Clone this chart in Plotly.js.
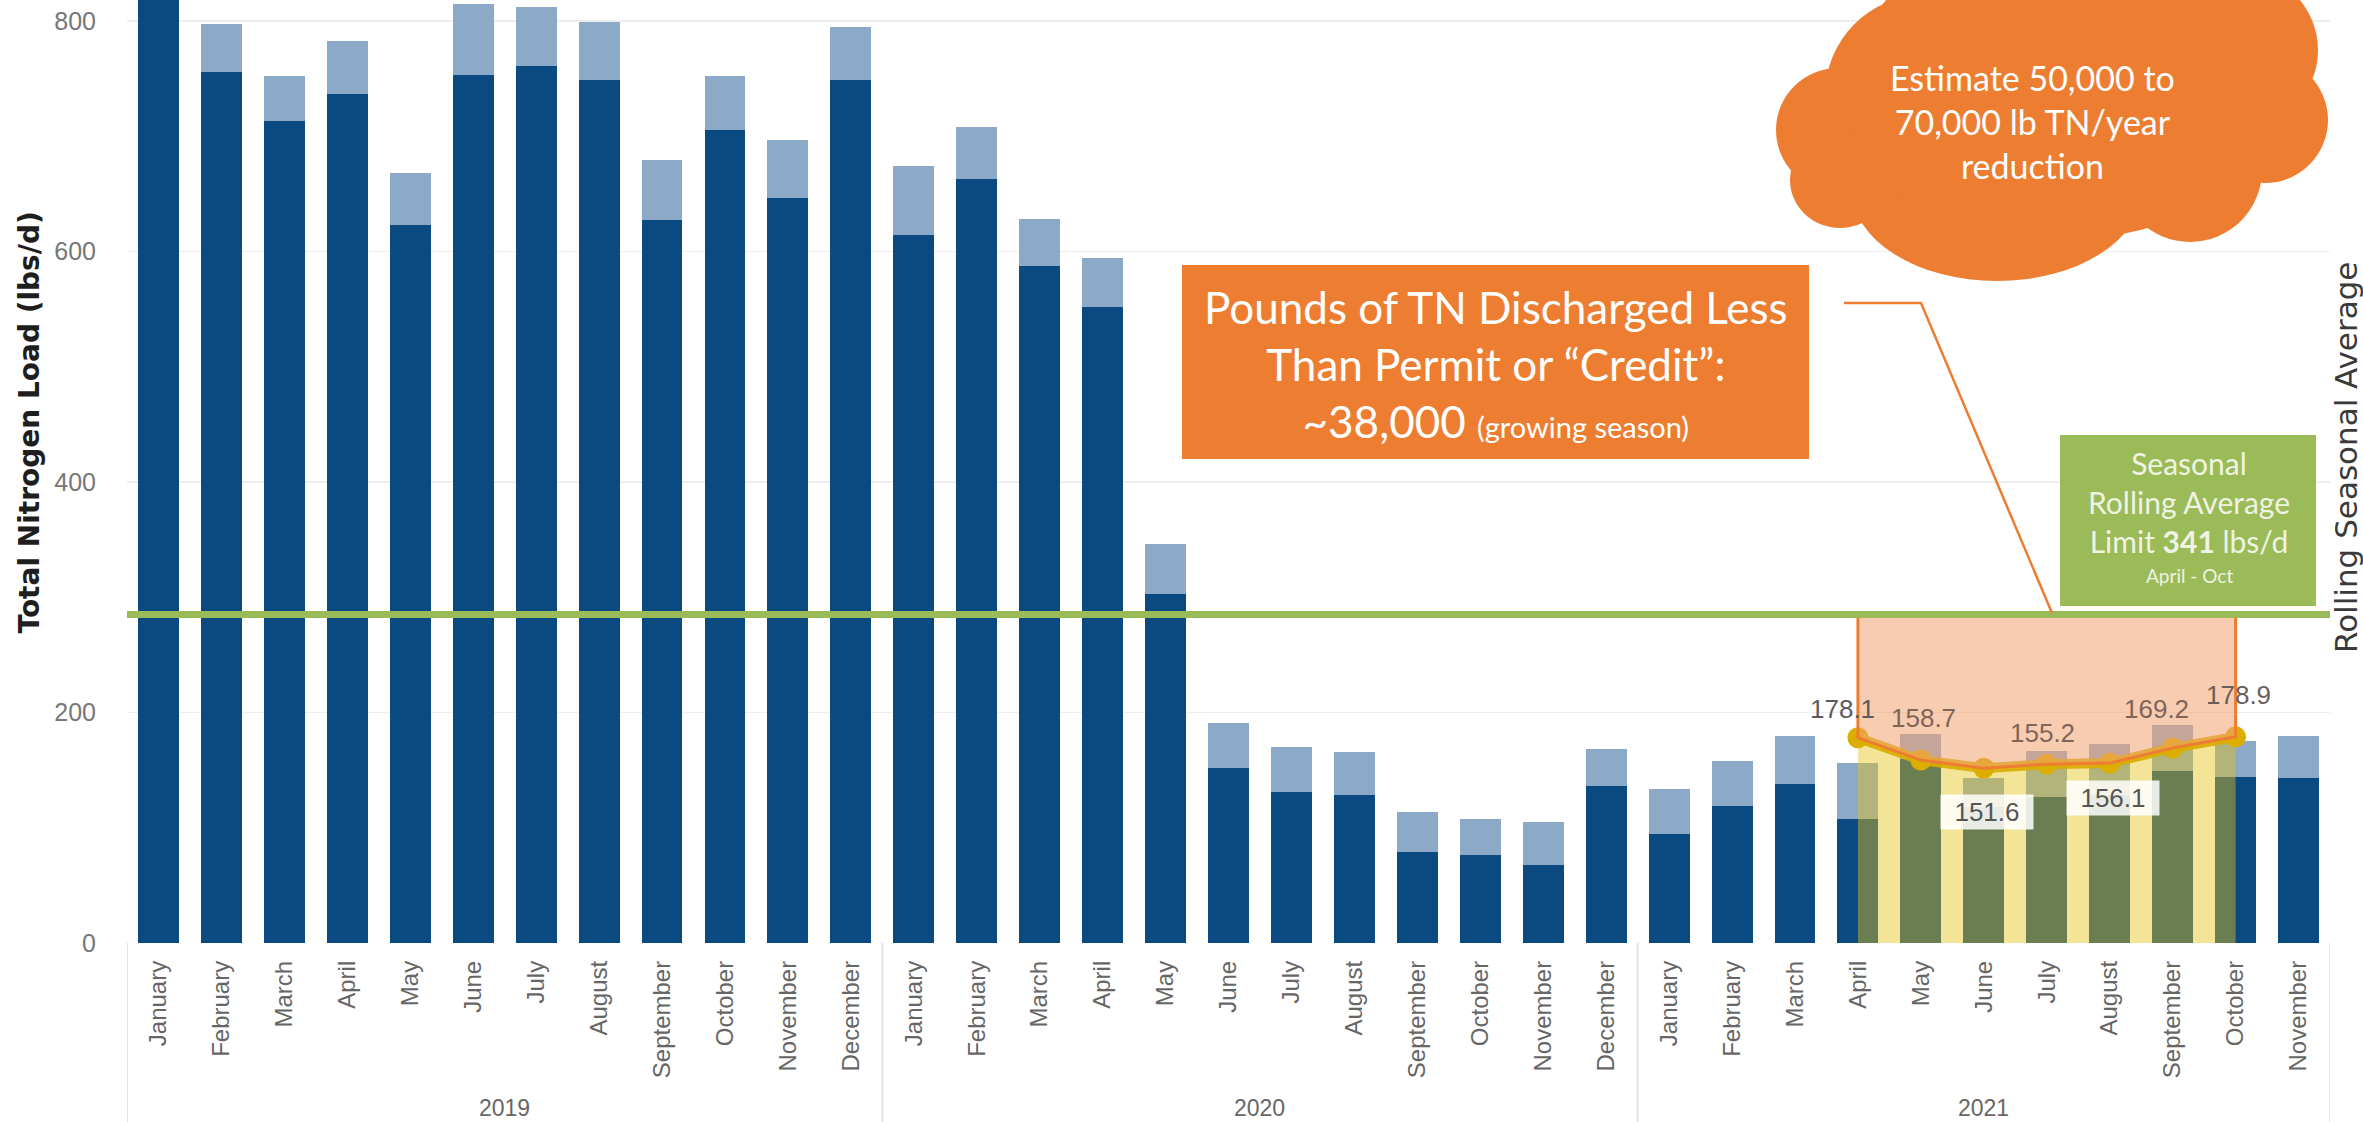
<!DOCTYPE html>
<html>
<head>
<meta charset="utf-8">
<script src="https://cdn.plot.ly/plotly-3.0.1.min.js"></script>
<style>
  html, body { margin: 0; padding: 0; background: #ffffff; }
  #chart { width: 2363px; height: 1122px; }
</style>
</head>
<body>
<div id="chart"></div>
<script>
// ---------------- DATA ----------------
const yearLabels = ['2019', '2020', '2021'];
const monthsInYear = [12, 12, 11];
const monthNames = [
  'January','February','March','April','May','June','July','August','September','October','November','December',
  'January','February','March','April','May','June','July','August','September','October','November','December',
  'January','February','March','April','May','June','July','August','September','October','November'
];
// lower (dark blue) segment, lbs/d
const baseLoad = [
  840, 756, 713, 737, 623, 753, 761, 749, 627, 705, 646, 749,
  614, 663, 587, 552, 303, 152, 131, 128, 79, 76, 68, 136,
  95, 119, 138, 108, 160, 118, 127, 128, 149, 144, 143
];
// top of the stacked (light blue) bar, lbs/d
const totalLoad = [
  885, 797, 752, 783, 668, 815, 812, 799, 679, 752, 697, 795,
  674, 708, 628, 594, 346, 191, 170, 166, 114, 108, 105, 168,
  134, 158, 180, 156, 181, 143, 167, 173, 189, 175, 180
];
const rollingYear = '2021';
const rollingMonths = ['April', 'May', 'June', 'July', 'August', 'September', 'October'];
const rollingAvg = [178.1, 158.7, 151.6, 155.2, 156.1, 169.2, 178.9];
const limitLine = 285;

// ---------------- BUILD ----------------
const barYears = [];
yearLabels.forEach((y, k) => { for (let i = 0; i < monthsInYear[k]; i++) barYears.push(y); });
const keys = monthNames.map((m, i) => m + ' ' + barYears[i]);
const extraLoad = totalLoad.map((t, i) => t - baseLoad[i]);
const rollKeys = rollingMonths.map(m => m + ' ' + rollingYear);

const W = 2363, H = 1122, L = 127, R = 33, T = 0, B = 179;
const PW = W - L - R, PH = H - T - B;
const px = x => (x - L) / PW;          // pixel x -> paper x
const py = y => (T + PH - y) / PH;     // pixel y (from top) -> paper y

const traces = [
  { type: 'bar', x: keys, y: baseLoad, marker: { color: '#0b4a80' }, hoverinfo: 'skip' },
  { type: 'bar', x: keys, y: extraLoad, marker: { color: '#8ca9c8' }, hoverinfo: 'skip' },
  { type: 'scatter', x: rollKeys, y: rollingAvg, mode: 'lines', line: { width: 0 },
    fill: 'tozeroy', fillcolor: 'rgba(230,194,20,0.44)', hoverinfo: 'skip' },
  { type: 'scatter', x: rollKeys, y: rollingAvg, mode: 'lines+markers',
    line: { color: 'rgba(217,172,0,0.92)', width: 10 },
    marker: { size: 21, color: '#dcae00' }, hoverinfo: 'skip' },
  { type: 'scatter',
    x: [rollKeys[0]].concat(rollKeys, [rollKeys[rollKeys.length - 1], rollKeys[0]]),
    y: [limitLine].concat(rollingAvg, [limitLine, limitLine]),
    mode: 'lines', fill: 'toself', fillcolor: 'rgba(243,162,112,0.55)',
    line: { color: '#ed7d31', width: 3 }, hoverinfo: 'skip' }
];

// ---------------- SHAPES ----------------
const shapes = [];
let start = 0;
const yearCenters = [];
yearLabels.forEach((y, k) => {
  shapes.push({ type: 'line', xref: 'x', yref: 'paper', x0: start - 0.5, x1: start - 0.5,
    y0: 0, y1: py(H), line: { color: '#e2e2e2', width: 2 } });
  yearCenters.push(start + (monthsInYear[k] - 1) / 2);
  start += monthsInYear[k];
});
shapes.push({ type: 'line', xref: 'x', yref: 'paper', x0: start - 0.5, x1: start - 0.5,
  y0: 0, y1: py(H), line: { color: '#e2e2e2', width: 2 } });

// permit limit line
shapes.push({ type: 'line', xref: 'paper', yref: 'y', x0: 0, x1: 1, y0: limitLine, y1: limitLine,
  line: { color: '#9bbb59', width: 7 } });

// orange text box
shapes.push({ type: 'rect', xref: 'paper', yref: 'paper', x0: px(1182), x1: px(1809),
  y0: py(459), y1: py(265), fillcolor: '#ed7d31', line: { width: 0 } });
// connector
shapes.push({ type: 'path', xref: 'paper', yref: 'paper',
  path: 'M ' + px(1844) + ' ' + py(303) + ' L ' + px(1921) + ' ' + py(303) + ' L ' + px(2052) + ' ' + py(613),
  line: { color: '#ed7d31', width: 2.5 } });
// green box
shapes.push({ type: 'rect', xref: 'paper', yref: 'paper', x0: px(2060), x1: px(2316),
  y0: py(606), y1: py(435), fillcolor: '#9bbb59', line: { width: 0 } });

// cloud built from overlapping ellipses (pixel geometry)
const cloudParts = [
  [1925, 95, 100, 100], [1838, 130, 62, 62], [1840, 180, 50, 48], [1997, 190, 145, 91],
  [2190, 170, 72, 72], [2265, 120, 63, 63], [2240, 50, 78, 78], [2060, 110, 210, 130],
  [2100, 10, 150, 90], [1990, 40, 120, 80]
];
cloudParts.forEach(c => {
  shapes.push({ type: 'circle', xref: 'paper', yref: 'paper',
    x0: px(c[0] - c[2]), x1: px(c[0] + c[2]), y0: py(c[1] + c[3]), y1: py(c[1] - c[3]),
    fillcolor: '#ed7d31', line: { width: 0 } });
});

// ---------------- ANNOTATIONS ----------------
const annotations = [];
yearLabels.forEach((y, k) => {
  annotations.push({ xref: 'x', yref: 'paper', x: yearCenters[k], y: py(1108), text: y,
    xanchor: 'center', yanchor: 'middle', showarrow: false,
    font: { family: 'Liberation Sans, Arial, sans-serif', size: 23, color: '#666666' } });
});

// rolling-average value labels
const labelPlace = [
  { dx: -15, dy: 29, box: false, c: '#5c5c5c' }, { dx: 3, dy: 42, box: false, c: '#806458' },
  { dx: 3, dy: -44, box: true, c: '#555555' }, { dx: -4, dy: 31, box: false, c: '#806458' },
  { dx: 3, dy: -35, box: true, c: '#555555' }, { dx: -16, dy: 39, box: false, c: '#806458' },
  { dx: 3, dy: 42, box: false, c: '#6a5e58' }
];
rollingAvg.forEach((v, i) => {
  const p = labelPlace[i];
  const a = { xref: 'x', yref: 'y', x: rollKeys[i], y: v, text: v.toFixed(1), showarrow: false,
    xanchor: 'center', yanchor: 'middle', xshift: p.dx, yshift: p.dy,
    font: { family: 'Liberation Sans Narrow, Liberation Sans, Arial, sans-serif', size: 26, color: p.c } };
  if (p.box) { a.bgcolor = 'rgba(255,255,255,0.85)'; a.borderpad = 4; a.width = 84; a.height = 26; }
  annotations.push(a);
});

annotations.push({ xref: 'paper', yref: 'paper', x: px(1496), y: py(364), xanchor: 'center', yanchor: 'middle',
  text: 'Pounds of TN Discharged Less<br>Than Permit or “Credit”:<br>~38,000 <span style="font-size:29px">(growing season)</span>',
  showarrow: false, align: 'center', font: { family: 'Lato, Open Sans, sans-serif', size: 44, color: '#ffffff' } });

annotations.push({ xref: 'paper', yref: 'paper', x: px(2032), y: py(122), xanchor: 'center', yanchor: 'middle',
  text: 'Estimate 50,000 to<br>70,000 lb TN/year<br>reduction',
  showarrow: false, align: 'center', font: { family: 'Lato, Open Sans, sans-serif', size: 34, color: '#ffffff' } });

annotations.push({ xref: 'paper', yref: 'paper', x: px(2189), y: py(502), xanchor: 'center', yanchor: 'middle',
  text: 'Seasonal<br>Rolling Average<br>Limit <b>341</b> lbs/d',
  showarrow: false, align: 'center', font: { family: 'Lato, Open Sans, sans-serif', size: 30, color: '#eef3e2' } });
annotations.push({ xref: 'paper', yref: 'paper', x: px(2189), y: py(576), xanchor: 'center', yanchor: 'middle',
  text: 'April - Oct', showarrow: false,
  font: { family: 'Lato, Open Sans, sans-serif', size: 19, color: '#eef3e2' } });

annotations.push({ xref: 'paper', yref: 'paper', x: px(28.5), y: py(423), xanchor: 'center', yanchor: 'middle',
  textangle: -90, text: '<b>Total Nitrogen Load (lbs/d)</b>', showarrow: false,
  font: { family: 'DejaVu Sans, sans-serif', size: 28, color: '#1e1e1e' } });
annotations.push({ xref: 'paper', yref: 'paper', x: px(2346), y: py(458), xanchor: 'center', yanchor: 'middle',
  textangle: -90, text: 'Rolling Seasonal Average', showarrow: false,
  font: { family: 'DejaVu Sans, sans-serif', size: 31, color: '#3a3a3a' } });

// ---------------- LAYOUT ----------------
const layout = {
  width: W, height: H,
  margin: { l: L, r: R, t: T, b: B, pad: 0 },
  paper_bgcolor: '#ffffff', plot_bgcolor: '#ffffff',
  barmode: 'stack', bargap: 0.35, showlegend: false,
  xaxis: {
    type: 'category', tickvals: keys, ticktext: monthNames, tickangle: -90,
    range: [-0.5, keys.length - 0.5],
    tickfont: { family: 'Liberation Sans, Arial, sans-serif', size: 24, color: '#666666' },
    showgrid: false, zeroline: false, showline: false, ticks: '', ticklabelstandoff: 12,
    automargin: false
  },
  yaxis: {
    range: [0, 818.2], tickvals: [0, 200, 400, 600, 800],
    showgrid: true, gridcolor: '#eeeeee', gridwidth: 1.5, zeroline: false, showline: false,
    tickfont: { family: 'Liberation Sans, Arial, sans-serif', size: 25, color: '#777777' },
    ticks: '', ticklabelstandoff: 30, automargin: false
  },
  shapes: shapes,
  annotations: annotations
};

Plotly.newPlot('chart', traces, layout, { staticPlot: true, displayModeBar: false });
</script>
</body>
</html>
